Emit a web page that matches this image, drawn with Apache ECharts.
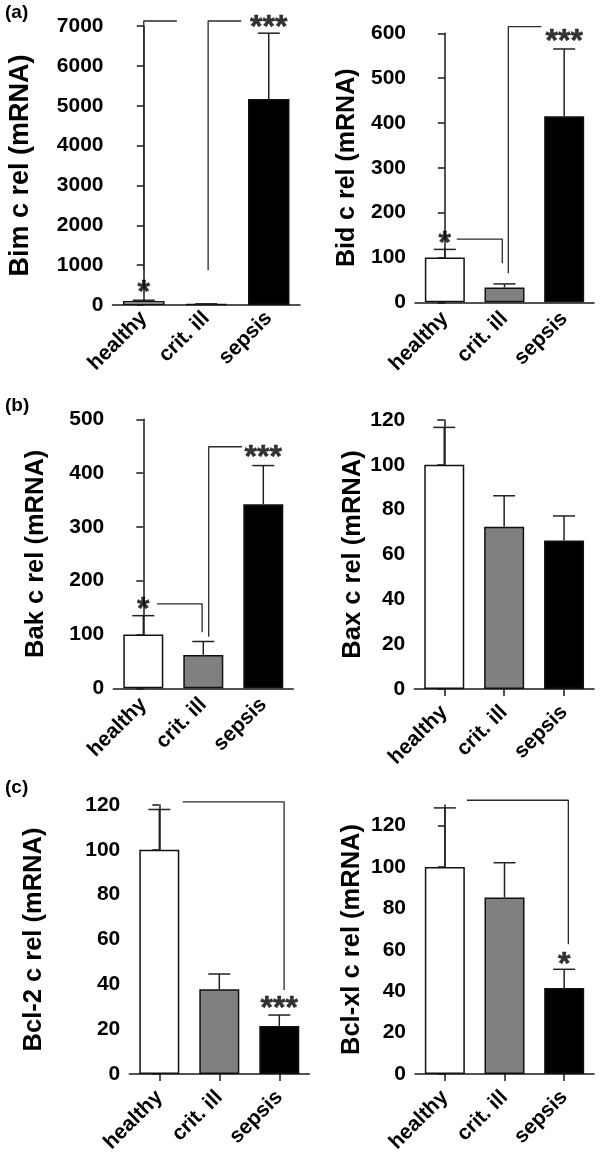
<!DOCTYPE html>
<html>
<head>
<meta charset="utf-8">
<script src="https://cdn.jsdelivr.net/npm/echarts@6/dist/echarts.min.js"></script>
<style>
  html, body { margin: 0; padding: 0; background: #fff; }
  #chart { width: 600px; height: 1156px; }
</style>
</head>
<body>
<div id="chart"></div>
<script>
// ---------- data ----------
const categories = ['healthy', 'crit. ill', 'sepsis'];
const barColors = ['#ffffff', '#808080', '#000000'];

const bimMean = [100, 25, 5170];
const bimErr = [20, 5, 1650];
const bidMean = [100, 33, 415];
const bidErr = [18, 8, 150];
const bakMean = [100, 62, 342];
const bakErr = [35, 25, 72];
const baxMean = [100, 72.4, 66.3];
const baxErr = [16.7, 13.8, 10.9];
const bcl2Mean = [100, 37.8, 21.4];
const bcl2Err = [18, 6.8, 4.9];
const bclxlMean = [100, 85.3, 41.6];
const bclxlErr = [28.6, 16.8, 9];

const bimTicks = [0, 1000, 2000, 3000, 4000, 5000, 6000, 7000];
const bidTicks = [0, 100, 200, 300, 400, 500, 600];
const bakTicks = [0, 100, 200, 300, 400, 500];
const baxTicks = [0, 20, 40, 60, 80, 100, 120];
const bcl2Ticks = [0, 20, 40, 60, 80, 100, 120];
const bclxlTicks = [0, 20, 40, 60, 80, 100, 120];

// significance brackets: polylines in (category index, value) units
const bimBrackets = [[[0, 875], [0, 7125], [0.53, 7125]], [[1.03, 875], [1.03, 7125], [1.56, 7125]]];
const bidBrackets = [[[0.2, 141], [0.963, 141], [0.963, 87]], [[1.064, 65], [1.064, 615], [1.62, 615]]];
const bakBrackets = [[[0.23, 157], [0.98, 157], [0.98, 104]], [[1.09, 96], [1.09, 449], [1.645, 449]]];
const baxBrackets = [];
const bcl2Brackets = [[[0.39, 121.4], [2.08, 121.4], [2.08, 37.5]]];
const bclxlBrackets = [[[0.37, 132.3], [2.07, 132.3], [2.07, 62.7]]];

// significance stars: [category index, value, text]
const bimStars = [[0, 475, '*'], [2, 7130, '***']];
const bidStars = [[0, 145, '*'], [2, 596, '***']];
const bakStars = [[0, 158, '*'], [2, 440, '***']];
const baxStars = [];
const bcl2Stars = [[2, 32, '***']];
const bclxlStars = [[2, 56, '*']];

const panelLabels = ['(a)', '(b)', '(c)'];

// ---------- layout ----------
const FONT = '"Liberation Sans", Arial, Helvetica, sans-serif';
const panels = [
  { name: 'Bim c rel (mRNA)', mean: bimMean, err: bimErr, ticks: bimTicks, max: 7000, brackets: bimBrackets, stars: bimStars,
    grid: { left: 112.5, top: 26, width: 187.5, height: 279 }, nameGap: 78, nameSize: 27, xTicks: false, labelMargin: 10, barWidth: 41.5 },
  { name: 'Bid c rel (mRNA)', mean: bidMean, err: bidErr, ticks: bidTicks, max: 600, brackets: bidBrackets, stars: bidStars,
    grid: { left: 415, top: 33.3, width: 179, height: 269 }, nameGap: 55, nameSize: 25, xTicks: false, labelMargin: 13, barWidth: 40 },
  { name: 'Bak c rel (mRNA)', mean: bakMean, err: bakErr, ticks: bakTicks, max: 500, brackets: bakBrackets, stars: bakStars,
    grid: { left: 113.3, top: 419.3, width: 180, height: 269 }, nameGap: 64, nameSize: 25.5, xTicks: false, labelMargin: 13, barWidth: 40 },
  { name: 'Bax c rel (mRNA)', mean: baxMean, err: baxErr, ticks: baxTicks, max: 120, brackets: baxBrackets, stars: baxStars,
    grid: { left: 414.3, top: 420, width: 179.7, height: 269 }, nameGap: 47, nameSize: 25.5, xTicks: true, labelMargin: 20, barWidth: 40 },
  { name: 'Bcl-2 c rel (mRNA)', mean: bcl2Mean, err: bcl2Err, ticks: bcl2Ticks, max: 120, brackets: bcl2Brackets, stars: bcl2Stars,
    grid: { left: 129.3, top: 805, width: 180, height: 269 }, nameGap: 82, nameSize: 25.5, xTicks: true, labelMargin: 20, barWidth: 40 },
  { name: 'Bcl-xl c rel (mRNA)', mean: bclxlMean, err: bclxlErr, ticks: bclxlTicks, max: 130, brackets: bclxlBrackets, stars: bclxlStars,
    grid: { left: 415, top: 805, width: 179, height: 269 }, nameGap: 50, nameSize: 25.5, xTicks: true, labelMargin: 20, barWidth: 40 }
];

const AX = '#1a1a1a';
const grids = [], xAxes = [], yAxes = [], series = [];

panels.forEach((p, i) => {
  grids.push(Object.assign({ containLabel: false }, p.grid));
  // category axis (visible)
  xAxes.push({
    type: 'category', gridIndex: i, data: categories,
    axisLine: { lineStyle: { color: AX, width: 1.5 } },
    axisTick: { show: p.xTicks, alignWithLabel: true, length: 7, lineStyle: { color: AX, width: 1.5 } },
    axisLabel: { rotate: 45, margin: p.labelMargin, color: '#000', fontFamily: FONT, fontWeight: 'bold', fontSize: 21, interval: 0 }
  });
  // hidden value axis for annotations
  xAxes.push({ type: 'value', gridIndex: i, min: -0.5, max: 2.5, show: false });
  yAxes.push({
    type: 'value', gridIndex: i, min: 0, max: p.max, interval: p.ticks[1] - p.ticks[0],
    name: p.name, nameLocation: 'middle', nameRotate: 90, nameGap: p.nameGap,
    nameTextStyle: { fontFamily: FONT, fontWeight: 'bold', fontSize: p.nameSize, color: '#000' },
    splitLine: { show: false },
    axisLine: { show: true, lineStyle: { color: AX, width: 1.5 } },
    axisTick: { show: true, length: 7, lineStyle: { color: AX, width: 1.5 }, customValues: p.ticks },
    axisLabel: { margin: 9, color: '#000', fontFamily: FONT, fontWeight: 'bold', fontSize: 21, customValues: p.ticks,
      formatter: v => String(v) }
  });
  // bars
  series.push({
    type: 'bar', xAxisIndex: 2 * i, yAxisIndex: i, barWidth: p.barWidth, silent: true,
    data: p.mean.map((v, k) => ({ value: v, itemStyle: { color: barColors[k], borderColor: '#111', borderWidth: 1.5 } })),
    z: 2
  });
  // error bars (upper only)
  series.push({
    type: 'custom', xAxisIndex: 2 * i, yAxisIndex: i, silent: true, z: 3,
    data: p.mean.map((v, k) => [k, v, p.err[k]]),
    renderItem: function (params, api) {
      const x = api.value(0), m = api.value(1), e = api.value(2);
      const base = api.coord([x, m]);
      const top = api.coord([x, m + e]);
      const hw = 11;
      return {
        type: 'group',
        children: [
          { type: 'line', shape: { x1: base[0], y1: base[1], x2: top[0], y2: top[1] }, style: { stroke: '#222', lineWidth: 1.5 } },
          { type: 'line', shape: { x1: top[0] - hw, y1: top[1], x2: top[0] + hw, y2: top[1] }, style: { stroke: '#222', lineWidth: 1.5 } }
        ]
      };
    }
  });
  // brackets
  p.brackets.forEach(b => {
    series.push({
      type: 'line', xAxisIndex: 2 * i + 1, yAxisIndex: i, data: b, symbol: 'none', clip: false, silent: true,
      lineStyle: { color: '#2a2a2a', width: 1.3 }, z: 4, animation: false
    });
  });
  // stars
  if (p.stars.length) {
    series.push({
      type: 'scatter', xAxisIndex: 2 * i + 1, yAxisIndex: i, symbolSize: 0, clip: false, silent: true, z: 5,
      itemStyle: { color: '#000' },
      data: p.stars,
      label: {
        show: true, position: 'inside', offset: [0, 7],
        formatter: q => q.data[2],
        fontFamily: FONT, fontWeight: 'bold', fontSize: 32, color: '#000',
        textBorderWidth: 0.5, textBorderColor: '#000'
      }
    });
  }
});

const titles = [
  { text: panelLabels[0], left: 5, top: 3 },
  { text: panelLabels[1], left: 5, top: 396 },
  { text: panelLabels[2], left: 5, top: 778 }
].map(t => Object.assign(t, { padding: 0, textStyle: { fontFamily: FONT, fontWeight: 'bold', fontSize: 19, color: '#000' } }));

const chart = echarts.init(document.getElementById('chart'), null, { renderer: 'canvas' });
chart.setOption({
  animation: false,
  backgroundColor: '#ffffff',
  title: titles,
  grid: grids,
  xAxis: xAxes,
  yAxis: yAxes,
  series: series
});
</script>
</body>
</html>
